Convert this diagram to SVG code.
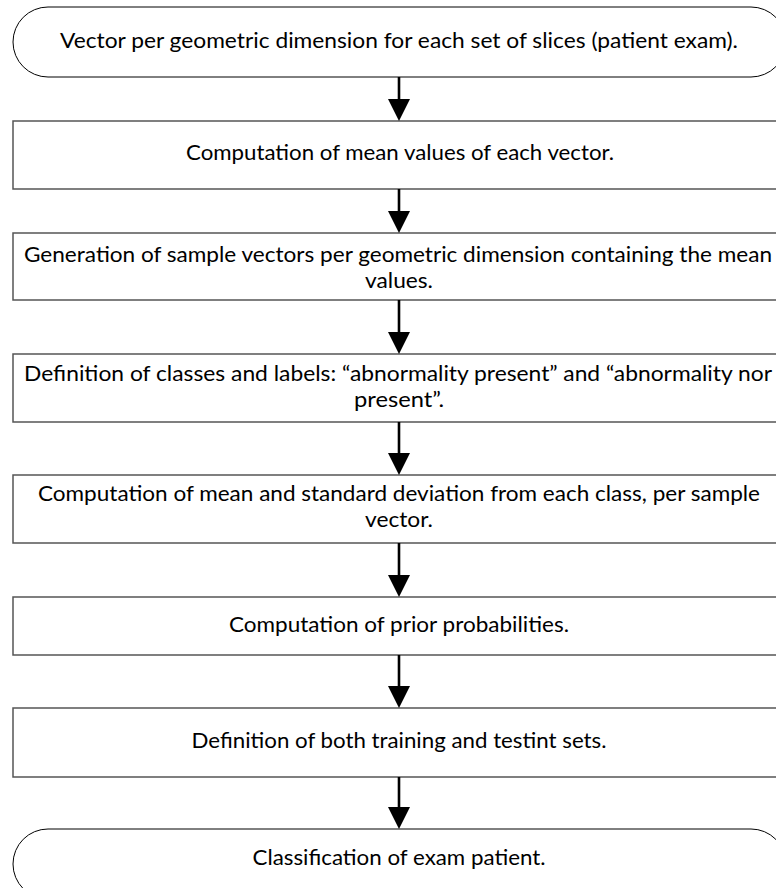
<svg xmlns="http://www.w3.org/2000/svg" width="776" height="888" viewBox="0 0 776 888">
  <style>
    .term { fill: #ffffff; stroke: #000000; stroke-width: 1; }
    .box { fill: #ffffff; stroke: #555555; stroke-width: 1.5; }
    .lbl { font-family: Lato, "Open Sans", "Liberation Sans", sans-serif; font-size: 20.5px; fill: #000000; text-anchor: middle; }
    .shaft { stroke: #000000; stroke-width: 2.6; fill: none; }
    .head { fill: #000000; }
  </style>
  <rect width="776" height="888" fill="#ffffff"/>

  <g id="start">
    <rect class="term" x="13" y="7" width="773" height="70" rx="35" ry="35"/>
    <text class="lbl" x="399" y="48" textLength="678" lengthAdjust="spacingAndGlyphs">Vector per geometric dimension for each set of slices (patient exam).</text>
  </g>

  <g id="mean-values">
    <rect class="box" x="13" y="121" width="773" height="68"/>
    <text class="lbl" x="400" y="160" textLength="428" lengthAdjust="spacingAndGlyphs">Computation of mean values of each vector.</text>
  </g>

  <g id="sample-vectors">
    <rect class="box" x="13" y="233" width="773" height="67"/>
    <text class="lbl" x="398" y="262" textLength="748" lengthAdjust="spacingAndGlyphs">Generation of sample vectors per geometric dimension containing the mean</text>
    <text class="lbl" x="399" y="288" textLength="68" lengthAdjust="spacingAndGlyphs">values.</text>
  </g>

  <g id="classes-labels">
    <rect class="box" x="13" y="354" width="773" height="68"/>
    <text class="lbl" x="398" y="381" textLength="748" lengthAdjust="spacingAndGlyphs">Definition of classes and labels: “abnormality present” and “abnormality nor</text>
    <text class="lbl" x="399" y="407" textLength="90" lengthAdjust="spacingAndGlyphs">present”.</text>
  </g>

  <g id="mean-std">
    <rect class="box" x="13" y="475" width="773" height="68"/>
    <text class="lbl" x="399" y="501" textLength="722" lengthAdjust="spacingAndGlyphs">Computation of mean and standard deviation from each class, per sample</text>
    <text class="lbl" x="399" y="527" textLength="68" lengthAdjust="spacingAndGlyphs">vector.</text>
  </g>

  <g id="priors">
    <rect class="box" x="13" y="597" width="773" height="58"/>
    <text class="lbl" x="399" y="632" textLength="340" lengthAdjust="spacingAndGlyphs">Computation of prior probabilities.</text>
  </g>

  <g id="train-test">
    <rect class="box" x="13" y="708" width="773" height="69"/>
    <text class="lbl" x="399" y="748" textLength="415" lengthAdjust="spacingAndGlyphs">Definition of both training and testint sets.</text>
  </g>

  <g id="end">
    <rect class="term" x="13" y="829" width="773" height="70" rx="35" ry="35"/>
    <text class="lbl" x="399" y="865" textLength="293" lengthAdjust="spacingAndGlyphs">Classification of exam patient.</text>
  </g>

  <!-- downward arrows between consecutive steps -->
  <g id="connectors">
    <line class="shaft" x1="399" y1="77" x2="399" y2="100"/>
    <polygon class="head" points="388,99 410,99 399,121"/>

    <line class="shaft" x1="399" y1="189" x2="399" y2="212"/>
    <polygon class="head" points="388,211 410,211 399,233"/>

    <line class="shaft" x1="399" y1="300" x2="399" y2="333"/>
    <polygon class="head" points="388,332 410,332 399,354"/>

    <line class="shaft" x1="399" y1="422" x2="399" y2="454"/>
    <polygon class="head" points="388,453 410,453 399,475"/>

    <line class="shaft" x1="399" y1="543" x2="399" y2="576"/>
    <polygon class="head" points="388,575 410,575 399,597"/>

    <line class="shaft" x1="399" y1="655" x2="399" y2="687"/>
    <polygon class="head" points="388,686 410,686 399,708"/>

    <line class="shaft" x1="399" y1="777" x2="399" y2="808"/>
    <polygon class="head" points="388,807 410,807 399,829"/>
  </g>
</svg>
